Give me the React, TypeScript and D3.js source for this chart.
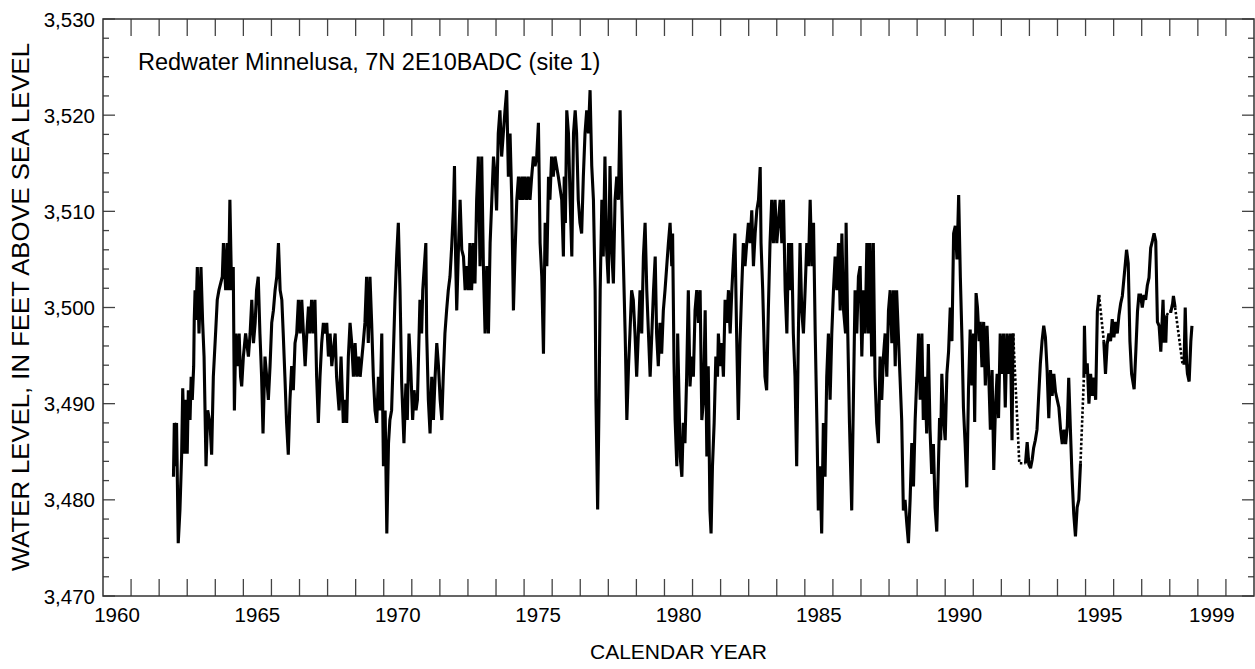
import React from "react";
import * as d3 from "d3";

type Pt = [number, number];

// Water level (feet above sea level) by decimal calendar year.
const record1962to1976: Pt[] = [
  [1962.51,3482.4],[1962.54,3488.0],[1962.59,3483.5],[1962.62,3488.0],[1962.68,3475.5],[1962.74,3478.9],[1962.80,3484.5],[1962.84,3491.6],[1962.90,3484.8],[1962.94,3490.4],[1963.00,3484.8],[1963.04,3491.4],[1963.10,3488.3],[1963.14,3492.8],[1963.18,3490.4],[1963.23,3493.9],[1963.25,3498.7],[1963.28,3501.8],[1963.31,3498.7],[1963.36,3504.2],[1963.42,3497.3],[1963.49,3504.2],[1963.55,3498.4],[1963.60,3494.9],[1963.67,3483.5],[1963.73,3489.3],[1963.81,3488.0],[1963.87,3484.7],[1963.93,3492.8],[1964.01,3497.3],[1964.07,3500.8],[1964.13,3501.8],[1964.25,3503.2],[1964.29,3506.7],[1964.37,3501.8],[1964.42,3506.7],[1964.47,3501.8],[1964.52,3511.2],[1964.58,3501.8],[1964.64,3504.2],[1964.68,3489.3],[1964.73,3497.3],[1964.79,3493.9],[1964.85,3497.3],[1964.90,3492.8],[1964.94,3491.8],[1965.00,3494.9],[1965.08,3497.3],[1965.18,3494.9],[1965.24,3497.3],[1965.30,3500.8],[1965.36,3496.3],[1965.42,3498.4],[1965.47,3501.8],[1965.53,3503.2],[1965.59,3497.3],[1965.65,3492.8],[1965.70,3486.9],[1965.77,3494.9],[1965.83,3492.8],[1965.89,3490.4],[1965.95,3493.9],[1966.01,3498.4],[1966.07,3499.7],[1966.13,3501.8],[1966.19,3503.2],[1966.25,3506.7],[1966.31,3501.8],[1966.37,3500.8],[1966.42,3497.3],[1966.48,3492.8],[1966.54,3488.0],[1966.60,3484.7],[1966.66,3490.4],[1966.72,3493.9],[1966.78,3491.4],[1966.84,3496.3],[1966.90,3497.3],[1966.96,3500.8],[1967.02,3497.3],[1967.08,3500.8],[1967.14,3497.3],[1967.20,3493.9],[1967.26,3497.3],[1967.32,3500.1],[1967.37,3497.3],[1967.43,3500.8],[1967.49,3497.3],[1967.55,3500.8],[1967.61,3492.8],[1967.67,3488.0],[1967.73,3492.8],[1967.79,3496.3],[1967.85,3498.4],[1967.91,3497.3],[1967.97,3498.4],[1968.03,3494.9],[1968.09,3497.3],[1968.15,3493.9],[1968.27,3497.3],[1968.32,3492.8],[1968.41,3489.3],[1968.48,3494.9],[1968.56,3488.0],[1968.62,3490.4],[1968.68,3488.0],[1968.74,3494.9],[1968.80,3498.4],[1968.86,3496.3],[1968.92,3492.8],[1968.98,3496.3],[1969.04,3492.8],[1969.10,3494.9],[1969.16,3492.8],[1969.27,3496.3],[1969.33,3498.4],[1969.39,3503.2],[1969.45,3496.3],[1969.51,3503.2],[1969.57,3498.4],[1969.63,3492.8],[1969.69,3489.3],[1969.75,3488.0],[1969.81,3492.8],[1969.87,3489.3],[1969.93,3497.3],[1969.99,3483.5],[1970.05,3489.3],[1970.11,3476.5],[1970.17,3485.9],[1970.22,3488.3],[1970.28,3489.3],[1970.34,3494.9],[1970.40,3500.8],[1970.46,3505.3],[1970.52,3508.8],[1970.58,3501.8],
  [1970.64,3492.1],[1970.72,3485.9],[1970.79,3492.1],[1970.84,3488.3],[1970.90,3497.3],[1970.96,3493.9],[1971.03,3488.3],[1971.08,3491.4],[1971.15,3489.3],[1971.20,3490.4],[1971.26,3497.3],[1971.29,3500.8],[1971.35,3497.3],[1971.39,3501.8],[1971.50,3506.7],[1971.53,3497.3],[1971.59,3490.4],[1971.65,3486.9],[1971.71,3492.8],[1971.77,3488.3],[1971.83,3492.8],[1971.89,3496.3],[1971.95,3493.9],[1972.01,3490.4],[1972.07,3488.3],[1972.12,3492.8],[1972.18,3497.3],[1972.24,3499.7],[1972.30,3501.8],[1972.36,3503.2],[1972.42,3506.3],[1972.48,3510.1],[1972.52,3514.7],[1972.56,3505.3],[1972.60,3499.7],[1972.66,3506.0],[1972.72,3511.2],[1972.78,3506.0],[1972.84,3505.3],[1972.90,3501.8],[1972.96,3504.3],[1973.02,3501.8],[1973.07,3506.7],[1973.13,3501.8],[1973.19,3506.7],[1973.25,3502.5],[1973.31,3511.2],[1973.37,3515.7],[1973.43,3504.3],[1973.49,3515.7],[1973.55,3504.3],[1973.61,3497.3],[1973.67,3504.3],[1973.73,3497.3],[1973.79,3506.7],[1973.85,3511.2],[1973.91,3515.7],[1973.97,3513.6],[1974.02,3510.1],[1974.08,3518.1],[1974.14,3520.5],[1974.20,3515.7],[1974.26,3518.1],[1974.32,3520.5],[1974.38,3522.6],[1974.44,3513.6],[1974.50,3518.1],[1974.56,3511.2],[1974.62,3499.7],[1974.68,3506.0],[1974.74,3511.2],[1974.80,3513.6],[1974.86,3511.2],[1974.92,3513.6],[1974.97,3511.2],[1975.03,3513.6],[1975.09,3511.2],[1975.15,3513.6],[1975.21,3511.2],[1975.27,3513.6],[1975.33,3515.7],[1975.39,3514.7],[1975.45,3515.7],[1975.51,3519.2],[1975.57,3506.7],[1975.63,3503.2],[1975.69,3495.2],[1975.75,3508.8],[1975.81,3504.3],[1975.87,3513.6],[1975.92,3511.2],[1975.98,3515.7],[1976.04,3513.6],[1976.10,3515.7],[1976.22,3513.6],[1976.34,3511.2],[1976.40,3505.3],[1976.43,3513.6]
];

const record1976to1992: Pt[] = [
  [1976.47,3508.8],[1976.52,3520.5],[1976.58,3518.1],[1976.64,3511.2],[1976.70,3505.3],[1976.76,3518.1],[1976.82,3520.5],[1976.87,3518.1],[1976.93,3511.2],[1976.99,3508.8],[1977.05,3507.7],[1977.11,3513.6],[1977.17,3518.1],[1977.23,3520.5],[1977.29,3518.1],[1977.35,3522.6],[1977.41,3514.7],[1977.47,3511.2],[1977.53,3501.8],[1977.56,3490.4],[1977.62,3479.0],[1977.67,3490.4],[1977.71,3501.8],[1977.77,3511.2],[1977.82,3505.3],[1977.88,3515.7],[1977.94,3506.0],[1978.00,3502.5],[1978.06,3514.7],[1978.12,3506.0],[1978.18,3502.5],[1978.24,3511.2],[1978.30,3513.6],[1978.36,3511.2],[1978.42,3520.5],[1978.48,3511.2],[1978.54,3504.3],[1978.60,3497.3],[1978.66,3488.3],[1978.72,3493.9],[1978.77,3497.3],[1978.83,3501.8],[1978.89,3500.8],[1978.95,3497.3],[1979.01,3492.8],[1979.07,3497.3],[1979.13,3501.8],[1979.19,3497.3],[1979.25,3505.3],[1979.31,3508.8],[1979.37,3501.8],[1979.43,3497.3],[1979.49,3492.8],[1979.55,3497.3],[1979.61,3501.8],[1979.67,3505.3],[1979.72,3497.3],[1979.78,3493.9],[1979.84,3498.4],
  [1979.90,3495.2],[1979.96,3499.7],[1980.02,3501.8],[1980.14,3506.7],[1980.20,3508.8],[1980.26,3504.3],[1980.29,3507.7],[1980.34,3494.2],[1980.38,3488.3],[1980.44,3483.5],[1980.47,3497.3],[1980.52,3490.4],[1980.56,3484.5],[1980.62,3482.4],[1980.67,3488.0],[1980.73,3485.9],[1980.79,3492.8],[1980.85,3501.8],[1980.91,3491.8],[1980.97,3494.9],[1981.03,3492.8],[1981.09,3499.7],[1981.15,3501.8],[1981.21,3498.4],[1981.27,3501.8],[1981.33,3488.3],[1981.39,3490.4],[1981.45,3499.7],[1981.51,3484.5],[1981.56,3493.9],[1981.62,3478.9],[1981.66,3476.5],[1981.71,3483.5],[1981.77,3488.0],[1981.83,3494.9],[1981.89,3492.8],[1981.92,3497.3],[1981.98,3493.9],[1982.04,3496.3],[1982.10,3492.8],[1982.16,3500.8],[1982.22,3498.4],[1982.28,3501.8],[1982.34,3497.3],[1982.40,3501.8],[1982.46,3505.3],[1982.51,3507.7],[1982.57,3497.3],[1982.63,3488.3],[1982.69,3496.3],[1982.75,3501.8],[1982.81,3506.7],[1982.87,3504.3],[1982.93,3506.7],[1982.99,3508.8],[1983.05,3506.7],[1983.11,3510.1],[1983.17,3504.3],[1983.23,3507.7],[1983.29,3510.1],[1983.35,3511.2],[1983.41,3514.6],[1983.44,3506.7],[1983.50,3501.8],[1983.58,3492.8],[1983.64,3491.4],[1983.70,3499.7],[1983.76,3506.7],[1983.82,3511.2],[1983.88,3506.7],[1983.94,3511.2],[1984.00,3506.7],[1984.06,3508.8],[1984.12,3511.2],[1984.18,3506.7],[1984.24,3511.2],[1984.30,3501.8],[1984.36,3497.3],[1984.42,3506.7],[1984.48,3501.8],[1984.53,3506.7],[1984.59,3497.3],[1984.65,3492.8],[1984.71,3483.5],[1984.77,3497.3],[1984.83,3506.7],[1984.89,3499.7],[1984.95,3497.3],[1985.01,3501.8],[1985.07,3506.7],[1985.13,3504.3],[1985.19,3511.2],[1985.25,3504.3],[1985.31,3508.8],[1985.37,3497.3],[1985.43,3488.0],[1985.48,3478.9],[1985.54,3483.5],[1985.60,3476.5],[1985.66,3488.0],[1985.72,3482.4],[1985.78,3492.8],[1985.84,3497.3],[1985.90,3490.4],[1985.96,3497.3],[1986.02,3501.8],[1986.08,3505.3],[1986.14,3501.8],[1986.20,3506.7],[1986.26,3499.7],[1986.32,3507.7],[1986.38,3499.7],[1986.45,3497.3],[1986.47,3508.8],[1986.53,3497.3],[1986.59,3488.0],[1986.67,3478.9],[1986.73,3490.4],[1986.79,3501.8],[1986.85,3497.3],[1986.91,3503.2],[1986.97,3504.3],[1987.03,3494.9],[1987.09,3501.8],[1987.15,3497.3],[1987.21,3506.7],[1987.27,3497.3],[1987.32,3506.7],[1987.38,3494.9],[1987.44,3506.7],[1987.50,3492.8],[1987.56,3488.0],[1987.62,3485.9],[1987.68,3494.9],[1987.74,3490.4],[1987.80,3494.9],[1987.86,3497.3],[1987.92,3492.8],[1987.98,3499.7],[1988.04,3501.8],[1988.10,3496.3],[1988.16,3501.8],[1988.22,3493.9],[1988.27,3501.8],[1988.33,3497.3],[1988.39,3492.8],[1988.45,3488.3],[1988.51,3478.9],[1988.57,3480.0],[1988.63,3477.6],[1988.69,3475.5],[1988.75,3480.0],[1988.81,3485.9],[1988.87,3481.4],[1988.93,3488.3],[1988.99,3492.8],[1989.05,3497.3],[1989.11,3490.4],[1989.17,3497.3],[1989.22,3488.3],[1989.28,3492.8],[1989.34,3486.9],
  [1989.40,3496.2],[1989.46,3487.3],[1989.52,3482.7],[1989.58,3485.8],[1989.64,3479.2],[1989.70,3476.7],[1989.76,3483.8],[1989.80,3488.5],[1989.84,3486.2],[1989.88,3493.1],[1989.94,3488.5],[1990.00,3486.2],[1990.06,3493.1],[1990.12,3495.4],[1990.18,3500.0],[1990.24,3496.5],[1990.30,3507.7],[1990.36,3508.5],[1990.42,3505.0],[1990.48,3511.7],[1990.54,3503.1],[1990.60,3496.5],[1990.65,3489.6],[1990.71,3485.8],[1990.77,3481.3],[1990.83,3491.5],[1990.89,3497.7],[1990.95,3491.9],[1991.01,3497.3],[1991.05,3488.1],[1991.10,3501.5],[1991.15,3500.0],[1991.21,3496.5],[1991.25,3498.5],[1991.31,3493.8],[1991.37,3498.5],[1991.43,3491.9],[1991.49,3498.1],[1991.55,3493.1],[1991.61,3487.3],[1991.67,3493.5],[1991.73,3483.1],[1991.79,3489.6],[1991.85,3493.1],[1991.90,3488.5],[1991.96,3497.3],[1992.02,3493.1],[1992.08,3497.3],[1992.14,3489.6],[1992.20,3497.3],[1992.26,3493.1],[1992.32,3497.3],[1992.38,3486.2],[1992.42,3497.3]
];

const record1992to1994: Pt[] = [
  [1992.86,3483.8],[1992.92,3486.0],[1992.98,3483.7],[1993.04,3483.3],[1993.10,3484.2],[1993.15,3485.4],[1993.21,3486.2],[1993.27,3487.3],[1993.33,3490.8],[1993.39,3494.2],[1993.45,3496.5],[1993.51,3498.1],[1993.57,3496.9],[1993.63,3493.5],[1993.69,3488.5],[1993.75,3493.5],[1993.81,3490.8],[1993.87,3493.1],[1993.93,3491.2],[1994.05,3489.6],[1994.11,3487.3],[1994.17,3485.8],[1994.23,3487.3],[1994.29,3485.8],[1994.35,3487.7],[1994.40,3492.7],[1994.46,3487.3],[1994.52,3482.3],[1994.58,3478.5],[1994.64,3476.2],[1994.70,3479.2],[1994.76,3480.0],[1994.82,3483.8]
];

const record1995: Pt[] = [
  [1994.94,3492.7],[1994.96,3498.1],[1995.00,3493.1],[1995.06,3494.2],[1995.12,3490.0],[1995.18,3493.1],[1995.24,3490.8],[1995.30,3492.7],[1995.36,3490.4],[1995.42,3499.6],[1995.48,3501.3]
];

const record1995to1997: Pt[] = [
  [1995.65,3496.5],[1995.71,3493.1],[1995.77,3496.2],[1995.83,3497.3],[1995.89,3496.5],[1995.95,3498.8],[1996.01,3496.9],[1996.07,3498.5],[1996.13,3497.3],[1996.19,3499.2],[1996.25,3500.4],[1996.31,3501.2],[1996.37,3503.1],[1996.43,3505.0],[1996.46,3506.0],[1996.52,3504.6],[1996.58,3496.5],[1996.64,3493.1],[1996.73,3491.5],[1996.79,3495.4],[1996.85,3499.6],[1996.90,3501.3],[1996.96,3501.3],[1997.02,3500.0],[1997.08,3501.3],[1997.14,3500.8],[1997.20,3502.3],[1997.26,3503.1],[1997.32,3506.2],[1997.38,3506.9],[1997.44,3507.7],[1997.50,3506.9],[1997.56,3498.5],[1997.62,3498.1],[1997.68,3495.4],[1997.76,3500.8],[1997.80,3496.5],[1997.86,3496.5],[1997.89,3499.2]
];

const record1998a: Pt[] = [
  [1997.98,3499.6],[1998.04,3499.6],[1998.10,3500.4],[1998.13,3501.2],[1998.19,3500.0]
];

const record1998b: Pt[] = [
  [1998.45,3494.2],[1998.51,3494.2],[1998.55,3500.0],[1998.60,3494.2],[1998.63,3493.1],[1998.69,3492.3],[1998.75,3496.5],[1998.79,3498.1]
];

// Estimated (dotted) connections across gaps in the record.
const estimated1976: Pt[] = [[1976.43,3513.6],[1976.47,3508.8]];
const estimated1992: Pt[] = [[1992.42,3497.3],[1992.64,3483.8],[1992.86,3483.8]];
const estimated1994: Pt[] = [[1994.82,3483.8],[1994.94,3492.7]];
const estimated1995: Pt[] = [[1995.48,3501.3],[1995.65,3496.5]];
const estimated1997: Pt[] = [[1997.89,3499.2],[1997.98,3499.6]];
const estimated1998: Pt[] = [[1998.19,3500.0],[1998.45,3494.2]];

const yearLabels = [1960, 1965, 1970, 1975, 1980, 1985, 1990, 1995, 1999];
const plotTitle = "Redwater Minnelusa, 7N 2E10BADC (site 1)";
const xAxisTitle = "CALENDAR YEAR";
const yAxisTitle = "WATER LEVEL, IN FEET ABOVE SEA LEVEL";

const W = 1255;
const H = 669;
const L = 103, R = 1254, T = 19, B = 596;
const FONT = "'Liberation Sans', Arial, Helvetica, sans-serif";

export default function App() {
  const x = d3.scaleLinear().domain([1960, 2001]).range([L, R]);
  const y = d3.scaleLinear().domain([3470, 3530]).range([B, T]);
  const line = d3.line<Pt>().x((d) => x(d[0])).y((d) => y(d[1]));
  const fmt = d3.format(",");
  const yearTicks = d3.range(1961, 2001);
  const levelTicks = d3.range(3470, 3531, 2);
  const solid = [record1962to1976, record1976to1992, record1992to1994, record1995, record1995to1997, record1998a, record1998b];
  const dotted = [estimated1976, estimated1992, estimated1994, estimated1995, estimated1997, estimated1998];

  return (
    <svg width={W} height={H} style={{ position: "absolute", left: 0, top: 0, background: "#fff" }} fontFamily={FONT}>
      <rect x={0} y={0} width={W} height={H} fill="#fff" />
      {yearTicks.map((t) => (
        <g key={"xt" + t} stroke="#444" strokeWidth={1.3}>
          <line x1={x(t)} x2={x(t)} y1={B} y2={B - 17} />
          <line x1={x(t)} x2={x(t)} y1={T} y2={T + 17} />
        </g>
      ))}
      {levelTicks.map((v) => {
        const len = v % 10 === 0 ? 12 : 6;
        return (
          <g key={"yt" + v} stroke="#444" strokeWidth={1.3}>
            <line x1={L} x2={L + len} y1={y(v)} y2={y(v)} />
            <line x1={R} x2={R - len} y1={y(v)} y2={y(v)} />
          </g>
        );
      })}
      {solid.map((seg, i) => (
        <path key={"s" + i} d={line(seg) || ""} fill="none" stroke="#000" strokeWidth={3.1} strokeLinejoin="miter" strokeMiterlimit={3} />
      ))}
      {dotted.map((seg, i) => (
        <path key={"d" + i} d={line(seg) || ""} fill="none" stroke="#000" strokeWidth={2.6} strokeDasharray="2.5,2" />
      ))}
      <rect x={L} y={T} width={R - L} height={B - T} fill="none" stroke="#333" strokeWidth={1.5} />
      {levelTicks.filter((v) => v % 10 === 0).map((v) => (
        <text key={"yl" + v} x={95} y={y(v) + 7.5} textAnchor="end" fontSize={20.5} fill="#000">
          {fmt(v)}
        </text>
      ))}
      {yearLabels.map((yr) => (
        <text key={"xl" + yr} x={x(yr + 0.5)} y={622} textAnchor="middle" fontSize={20.5} fill="#000">
          {yr}
        </text>
      ))}
      <text x={138} y={70} fontSize={23.5} fill="#000">{plotTitle}</text>
      <text x={(L + R) / 2} y={659} textAnchor="middle" fontSize={21} fill="#000">{xAxisTitle}</text>
      <text
        transform={`translate(29,${(42 + 572) / 2}) rotate(-90)`}
        textAnchor="middle"
        fontSize={23}
        textLength={528}
        lengthAdjust="spacingAndGlyphs"
        fill="#000"
      >
        {yAxisTitle}
      </text>
    </svg>
  );
}
